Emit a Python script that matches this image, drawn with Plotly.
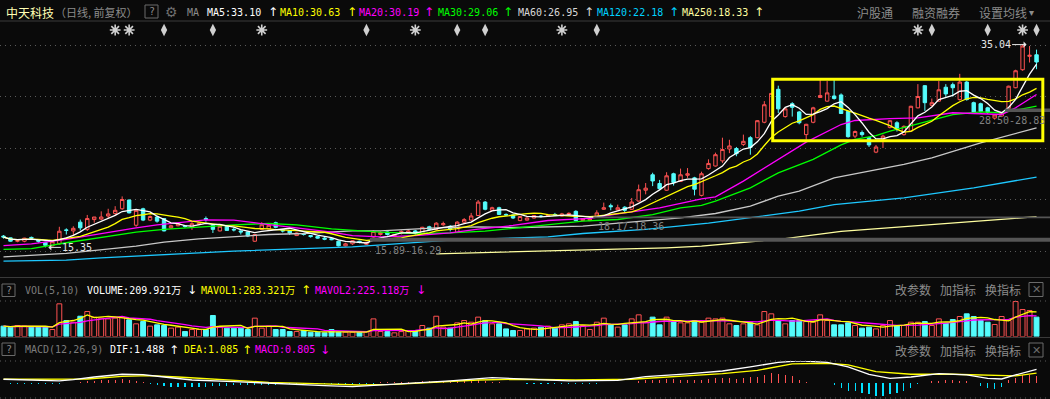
import plotly.graph_objects as go
import pandas as pd

# ---------------- data ----------------
opens = [16.45,16.28,15.95,15.95,16.32,16.05,15.85,15.5,15.7,17.05,
         16.95,17.8,17.1,18.05,18.1,18.4,18.65,19.1,19.95,17.5,
         19.1,18.0,18.3,18.15,17.25,17.45,17.45,17.3,17.6,18.15,
         17.5,16.95,17.4,17.1,16.95,16.85,15.95,17.1,17.15,17.75,
         17.05,16.95,16.5,16.7,16.5,16.4,16.25,16.2,15.95,15.5,
         15.7,15.95,15.65,16.35,16.6,16.85,16.4,16.7,16.75,16.95,
         16.7,17.35,17.1,17.55,17.4,16.8,17.8,18.0,18.45,19.75,
         18.95,19.2,18.55,18.5,17.95,18.0,18.2,18.4,18.35,18.55,
         18.4,18.55,18.85,17.95,17.95,18.4,19.05,19.4,19.0,19.25,
         19.05,19.85,20.9,22.4,21.55,20.9,22.5,21.75,22.35,22.1,
         20.4,23.0,23.25,23.75,24.9,24.95,25.35,26.0,26.0,27.5,
         28.05,30.7,28.05,29.3,28.5,26.3,27.5,29.9,29.55,30.05,
         30.15,28.55,26.15,26.5,26.0,24.6,25.85,27.0,27.45,26.3,
         26.65,28.9,31.05,29.15,29.55,30.9,31.15,29.7,31.4,29.4,
         29.3,28.9,27.9,28.1,28.85,30.85,32.6,33.9,34.05]
highs = [16.55,16.3,16.05,16.28,16.4,16.1,15.9,16.0,17.35,17.2,
         17.4,18.05,18.5,18.3,18.85,19.1,19.35,20.3,20.0,19.05,
         19.2,18.45,18.4,18.2,17.55,17.7,17.5,17.8,17.8,18.35,
         17.55,17.45,17.45,17.3,17.0,16.9,16.65,17.8,17.7,17.85,
         17.1,17.0,16.8,16.75,16.55,16.45,16.35,16.3,16.0,15.8,
         16.05,16.0,15.89,17.0,16.9,16.9,16.65,17.0,17.05,17.05,
         17.35,17.45,17.8,17.85,17.5,17.9,18.2,18.7,19.95,19.85,
         19.3,19.3,18.65,18.55,18.4,18.3,18.5,18.5,18.6,18.7,
         18.7,18.75,18.95,18.2,18.17,18.95,19.7,19.6,19.5,19.35,
         20.15,21.45,21.6,22.6,21.9,22.65,22.6,23.0,23.05,22.2,
         22.7,23.9,24.55,26.0,25.8,25.1,26.3,26.15,27.7,29.55,
         30.35,31.05,28.9,29.45,28.6,27.35,29.0,31.65,31.5,31.65,
         30.3,28.6,26.7,26.7,26.1,25.3,26.3,27.7,27.6,27.2,
         29.1,31.2,31.1,29.8,31.5,31.2,31.35,32.2,31.5,29.5,
         29.4,29.0,28.3,28.5,31.05,32.6,35.04,34.9,34.55]
lows = [16.2,15.9,15.85,15.85,16.15,15.8,15.35,15.45,15.6,16.6,
        16.55,17.0,16.95,17.75,18.0,18.2,18.5,19.0,18.65,17.35,
        17.9,17.9,17.75,16.9,17.15,17.4,17.25,17.05,17.5,17.85,
        16.75,16.9,16.95,16.9,16.6,16.35,15.9,17.05,17.1,17.2,
        16.8,16.55,16.45,16.5,16.3,16.2,16.05,16.05,15.45,15.45,
        15.6,15.75,15.6,16.29,16.5,16.5,16.35,16.6,16.65,16.6,
        16.65,17.0,17.0,17.45,16.9,16.75,17.7,17.95,18.4,18.95,
        18.9,18.5,18.4,18.1,17.9,17.95,18.15,18.25,18.3,18.4,
        18.35,18.5,17.9,17.9,17.9,18.36,19.0,18.95,18.95,18.75,
        19.0,19.8,20.5,21.3,20.95,20.85,21.35,21.7,22.1,20.4,
        20.3,22.9,23.2,23.55,24.5,24.2,25.2,24.35,25.95,27.4,
        28.0,28.4,27.95,28.05,27.3,25.8,27.4,29.85,29.5,29.7,
        28.3,26.0,25.95,26.1,25.1,24.5,25.0,26.9,26.6,26.2,
        26.6,28.85,28.6,29.05,29.5,30.0,30.0,29.6,29.6,28.3,
        28.45,28.3,27.75,28.0,28.83,30.8,32.5,33.3,32.65]
closes = [16.35,15.95,16.0,16.25,16.25,15.95,15.55,15.9,16.92,17.0,
          17.2,17.25,18.15,18.3,18.3,18.6,18.95,20.0,18.7,18.95,
          18.0,18.35,17.9,16.95,17.45,17.65,17.38,17.65,17.7,18.05,
          17.1,17.4,17.0,17.05,16.85,16.45,16.6,17.55,17.5,17.3,
          16.95,16.75,16.75,16.6,16.4,16.25,16.15,16.1,15.5,15.7,
          16.0,15.85,15.85,16.9,16.8,16.6,16.6,16.9,16.95,16.7,
          17.3,17.1,17.7,17.65,17.1,17.8,18.05,18.4,19.75,19.05,
          19.2,18.55,18.5,18.2,18.35,18.2,18.45,18.35,18.45,18.5,
          18.6,18.65,17.95,18.15,18.12,18.7,19.2,19.3,19.2,18.95,
          19.75,20.95,21.1,21.8,21.05,22.3,21.65,22.4,22.5,21.0,
          22.5,23.5,24.35,24.85,25.2,24.45,25.65,25.05,27.65,29.2,
          30.3,28.8,28.8,28.95,27.45,27.3,28.9,30.1,30.35,29.8,
          28.35,26.1,26.6,26.3,25.3,25.1,26.15,27.65,26.8,27.1,
          29.05,30.0,29.4,29.4,30.65,30.25,30.85,31.4,29.7,28.5,
          28.55,28.45,28.2,28.45,31.0,32.5,34.9,34.0,33.35]
# volume in 万 (10k shares)
volumes = [113,102,120,113,109,109,109,76,356,174,
           156,221,272,211,200,192,200,211,182,138,
           163,113,127,120,91,102,54,76,76,76,
           229,102,91,91,91,76,200,91,113,76,
           76,54,54,65,47,47,40,76,47,47,
           47,47,54,192,54,54,40,54,65,65,
           120,91,221,102,91,149,174,156,211,174,
           138,138,83,65,65,83,91,102,113,91,
           127,138,163,120,76,156,200,127,102,127,
           192,236,156,211,127,211,163,149,149,174,
           156,200,192,200,138,120,138,149,127,272,
           247,174,138,174,174,163,156,236,174,127,
           127,149,120,91,102,83,120,174,120,120,
           156,156,163,120,192,145,185,218,247,218,
           174,156,131,218,174,381,294,283,211]
# MACD histogram (per candle)
macd_hist = [0.0,-0.05,-0.05,-0.05,-0.05,-0.05,-0.05,-0.05,-0.05,
             0.05,0.08,0.1,0.2,0.25,0.3,0.3,0.4,0.45,0.35,0.2,0.1,
             -0.05,-0.15,-0.3,-0.35,-0.35,-0.4,-0.4,-0.35,-0.35,-0.3,-0.3,-0.25,
             -0.2,-0.2,-0.2,-0.2,-0.2,-0.2,-0.2,
             -0.1,-0.1,-0.1,-0.1,-0.1,-0.1,-0.1,-0.1,-0.1,-0.1,-0.1,-0.1,-0.1,
             -0.05,
             0.1,0.12,0.12,0.15,0.15,0.18,0.2,0.2,0.22,0.2,0.2,0.22,0.25,0.25,0.3,0.2,0.18,0.12,0.08,0.05,
             0.0,
             -0.05,-0.05,-0.05,-0.05,-0.05,-0.05,-0.05,-0.05,-0.05,-0.05,-0.05,
             0.0,0.0,
             0.05,0.05,0.05,
             0.2,0.3,0.35,0.4,0.45,0.45,0.4,0.35,
             0.3,0.4,0.5,0.55,0.55,0.6,0.5,0.55,0.65,0.7,
             0.9,1.05,1.0,0.9,0.75,
             0.3,0.15,0.05,0.05,0.05,-0.2,
             -0.55,-0.8,-0.8,-1.0,-1.1,-1.3,-1.3,-1.1,-1.0,-0.8,-0.5,
             -0.1,0.05,
             0.2,0.25,0.3,0.3,0.25,0.2,
             0.05,
             -0.3,-0.5,-0.6,-0.4,
             0.3,0.6,0.9,0.9,0.8]

# moving-average lines (candle index, value)
ma20_i = [0,4,9,14,19,22,26,29,33,35,38,42,47,50,54,59,64,68,73,78,84,88,94,100,102,106,111,115,120,122,127,131,136,140,143,145,148]
ma20_v = [15.53,15.7,16.12,16.7,17.25,17.54,17.8,18.02,18.0,17.8,17.57,17.25,16.83,16.5,16.38,16.5,16.76,17.12,17.48,17.96,18.16,18.61,19.19,20.06,20.26,21.78,23.9,25.57,27.28,27.67,27.85,27.93,28.42,28.32,28.25,28.9,30.19]
ma30_i = [0,4,9,14,19,23,28,33,38,42,47,50,54,59,64,69,74,78,83,88,93,97,100,102,107,111,114,116,120,122,125,127,131,136,140,143,148]
ma30_v = [15.15,15.24,15.8,16.28,16.83,17.09,17.35,17.54,17.67,17.54,17.15,16.99,16.83,16.7,16.76,16.92,17.25,17.57,17.9,18.06,18.54,19.19,19.42,19.84,21.13,22.59,23.4,23.9,25.3,25.83,26.21,26.63,27.35,28.25,28.51,28.42,29.06]
ma60_i = [0,9,19,23,28,33,38,43,50,54,58,62,68,74,83,92,97,102,107,111,114,119,129,133,140,148]
ma60_v = [14.43,14.76,15.47,15.86,16.18,16.38,16.6,16.7,16.96,16.96,17.09,17.25,17.35,17.28,17.41,17.9,18.22,18.64,19.35,20.32,20.81,22.1,23.4,24.05,25.5,26.95]
ma120_i = [0,9,14,23,33,43,50,64,78,83,92,101,114,119,129,139,148]
ma120_v = [14.01,14.11,14.34,14.66,14.98,15.24,15.4,16.05,16.38,16.7,17.1,17.7,18.87,19.5,20.16,21.13,22.18]
ma250_i = [62,66,73,80,86,95,100,112,120,134,148]
ma250_v = [14.73,14.8,14.88,14.98,15.08,15.31,15.47,16.21,16.9,17.6,18.33]

# MACD lines digitised (candle index, value)
dif_i = [0,4,8,10,13,17,20,23,27,33,39,46,50,54,58,64,70,75,81,88,92,98,103,107,111,114,118,121,124,127,130,134,138,141,143,145,148]
dif_v = [0.43,0.32,0.25,0.39,0.67,0.96,0.92,0.67,0.35,0.18,-0.04,-0.25,-0.35,-0.18,0.0,0.25,0.6,0.43,0.25,0.32,0.71,1.0,1.31,1.74,2.23,2.38,2.23,1.74,0.96,0.53,0.67,1.03,0.89,0.53,0.46,0.89,1.49]
dea_i = [0,6,12,17,21,25,30,38,46,51,56,62,68,74,82,90,96,103,108,113,118,121,125,130,136,142,145,148]
dea_v = [0.43,0.43,0.46,0.74,0.82,0.67,0.43,0.11,-0.07,-0.18,-0.11,0.11,0.35,0.43,0.35,0.43,0.74,1.03,1.38,2.06,2.13,1.95,1.24,0.96,0.96,0.82,0.78,1.09]

# price gaps: (candle before the gap, gap low, gap high)
gap_start = [52, 84, 143]
gap_low = [15.89, 18.17, 28.50]
gap_high = [16.29, 18.36, 28.83]

# event markers above candles
star_days = [16, 18, 37, 59, 80, 131, 146]
flag_days = [23, 30, 52, 65, 69, 85, 133, 141, 148]

# header texts
stock_name = "中天科技"
period_text = "（日线, 前复权）"
ma_labels = ["MA5:33.10", "MA10:30.63", "MA20:30.19", "MA30:29.06",
             "MA60:26.95", "MA120:22.18", "MA250:18.33"]
ma_arrows = ["↑", "↑", "↑", "↑", "↑", "↑", "↑"]
vol_labels = ["VOLUME:209.921万", "MAVOL1:283.321万", "MAVOL2:225.118万"]
vol_arrows = ["↓", "↑", "↓"]
macd_labels = ["DIF:1.488", "DEA:1.085", "MACD:0.805"]
macd_arrows = ["↑", "↑", "↓"]
high_label_day, low_label_day = 146, 6

# ---------------- styling / geometry ----------------
W, H = 1050, 399
BG = '#0a0a0a'
RED = '#ff5252'
CYAN = '#54fcfc'
WHITE = '#ffffff'
YEL = '#ffff00'
MAG = '#ff00ff'
GRN = '#00ff00'
MA60C = '#c8c8c8'
MA120C = '#1ec8ff'
MA250C = '#ffffa0'
GRAY = '#8c8c8c'
EVC = '#d0d0d0'
MONO = "DejaVu Sans Mono, Noto Sans CJK SC"
CJK = "Noto Sans CJK SC"
SYM = "DejaVu Sans"

X0_PX, STEP_PX = 3.5, 6.98
XR = [(0 - X0_PX) / STEP_PX, (W - X0_PX) / STEP_PX]
PY_A, PY_B = 405.5, 10.3          # y_px = A - B * price


def price_at(ypx):
    return (PY_A - ypx) / PY_B


def pv(ypx):
    return 1 - ypx / H


n = len(closes)
idx = list(range(n))
cs = pd.Series(closes)
ma5 = cs.rolling(5, min_periods=1).mean()
ma10 = cs.rolling(10, min_periods=1).mean()
vs = pd.Series(volumes)
mavol1 = vs.rolling(5, min_periods=1).mean()
mavol2 = vs.rolling(10, min_periods=1).mean()

fig = go.Figure()

# candles
fig.add_trace(go.Candlestick(
    x=idx, open=opens, high=highs, low=lows, close=closes,
    increasing=dict(line=dict(color=RED, width=1), fillcolor='rgba(0,0,0,0)'),
    decreasing=dict(line=dict(color=CYAN, width=1), fillcolor=CYAN),
    whiskerwidth=0, hoverinfo='skip', showlegend=False, xaxis='x', yaxis='y'))

# MA lines
for xs, ys, col in [(ma250_i, ma250_v, MA250C), (ma120_i, ma120_v, MA120C),
                    (ma60_i, ma60_v, MA60C), (ma30_i, ma30_v, GRN),
                    (ma20_i, ma20_v, MAG), (idx, list(ma10), YEL),
                    (idx, list(ma5), WHITE)]:
    fig.add_trace(go.Scatter(x=xs, y=ys, mode='lines', line=dict(color=col, width=1.3),
                             hoverinfo='skip', showlegend=False, xaxis='x', yaxis='y'))

# event markers
ev_y = price_at(30)
fig.add_trace(go.Scatter(x=star_days, y=[ev_y] * len(star_days), mode='markers',
                         marker=dict(symbol='asterisk-open', size=9, color=EVC,
                                     line=dict(width=1.6, color=EVC)),
                         hoverinfo='skip', showlegend=False, xaxis='x', yaxis='y'))
fig.add_trace(go.Scatter(x=star_days, y=[ev_y] * len(star_days), mode='markers',
                         marker=dict(symbol='circle', size=4, color=EVC,
                                     line=dict(width=0, color=EVC)),
                         hoverinfo='skip', showlegend=False, xaxis='x', yaxis='y'))
fig.add_trace(go.Scatter(x=flag_days, y=[ev_y] * len(flag_days), mode='markers',
                         marker=dict(symbol='diamond-tall', size=9, color=EVC,
                                     line=dict(width=0, color=EVC)),
                         hoverinfo='skip', showlegend=False, xaxis='x', yaxis='y'))

# volume
up = [c >= o for o, c in zip(opens, closes)]
fig.add_trace(go.Bar(
    x=idx, y=volumes, width=0.7,
    marker=dict(color=['rgba(0,0,0,0)' if u else CYAN for u in up],
                line=dict(color=[RED if u else CYAN for u in up], width=1)),
    hoverinfo='skip', showlegend=False, xaxis='x2', yaxis='y2'))
fig.add_trace(go.Scatter(x=idx, y=list(mavol2), mode='lines', line=dict(color=MAG, width=1.3),
                         hoverinfo='skip', showlegend=False, xaxis='x2', yaxis='y2'))
fig.add_trace(go.Scatter(x=idx, y=list(mavol1), mode='lines', line=dict(color=YEL, width=1.3),
                         hoverinfo='skip', showlegend=False, xaxis='x2', yaxis='y2'))

# MACD
fig.add_trace(go.Bar(
    x=idx, y=macd_hist, width=0.16,
    marker=dict(color=[RED if v > 0 else '#00e0ff' for v in macd_hist], line=dict(width=0)),
    hoverinfo='skip', showlegend=False, xaxis='x3', yaxis='y3'))
fig.add_trace(go.Scatter(x=dea_i, y=dea_v, mode='lines', line=dict(color=YEL, width=1.3),
                         hoverinfo='skip', showlegend=False, xaxis='x3', yaxis='y3'))
fig.add_trace(go.Scatter(x=dif_i, y=dif_v, mode='lines', line=dict(color=WHITE, width=1.3),
                         hoverinfo='skip', showlegend=False, xaxis='x3', yaxis='y3'))

shapes = []
ann = []


def hline(ypx, color, dash='solid'):
    shapes.append(dict(type='line', xref='paper', yref='paper', x0=0, x1=1,
                       y0=pv(ypx), y1=pv(ypx), line=dict(color=color, width=1, dash=dash)))


def txt(xpx, ypx, s, color, size=10, family=MONO, anchor='left'):
    ann.append(dict(x=xpx / W, y=pv(ypx), xref='paper', yref='paper', text=s,
                    showarrow=False, xanchor=anchor, yanchor='middle',
                    font=dict(family=family, size=size, color=color)))


def box(x0, x1, y0, y1, color='#6a6a6a'):
    shapes.append(dict(type='rect', xref='paper', yref='paper', x0=x0 / W, x1=x1 / W,
                       y0=pv(y1), y1=pv(y0), line=dict(color=color, width=1)))


# separators
hline(21, '#3a3a3a')
hline(277.5, '#3a3a3a')
hline(301, '#5a5a5a', '1px,4px')
hline(337.5, '#3a3a3a')
hline(361, '#5a5a5a', '1px,4px')
hline(398, '#5a5a5a', '1px,4px')

# gaps
for s, lo, hi in zip(gap_start, gap_low, gap_high):
    shapes.append(dict(type='rect', xref='x', yref='y', x0=s + 0.5, x1=XR[1],
                       y0=lo, y1=hi, fillcolor='#555555', line=dict(width=0), layer='above'))
    label = f"{lo:.2f}-{hi:.2f}"
    right_room = (XR[1] - (s + 0.5)) * STEP_PX
    if right_room > 70:
        ann.append(dict(x=s + 0.9, y=lo, xref='x', yref='y', text=label, showarrow=False,
                        xanchor='left', yanchor='top', yshift=-1,
                        font=dict(family=MONO, size=10, color='#808080')))
    else:
        ann.append(dict(x=0.997, y=lo, xref='paper', yref='y', text=label, showarrow=False,
                        xanchor='right', yanchor='top', yshift=-1,
                        font=dict(family=MONO, size=10, color='#808080')))

# consolidation box
shapes.append(dict(type='rect', xref='x', yref='y', x0=110.2, x1=148.9,
                   y0=price_at(140.7), y1=price_at(79.3),
                   line=dict(color='#ffff00', width=3), layer='above'))

# high / low labels
ann.append(dict(x=high_label_day, y=highs[high_label_day], xref='x', yref='y',
                text=f"{highs[high_label_day]:.2f}", showarrow=True, ax=-31, ay=0,
                xshift=4, arrowhead=1, arrowsize=1, arrowwidth=1, arrowcolor='#e6e6e6',
                standoff=0, font=dict(family=MONO, size=10, color='#e6e6e6')))
ann.append(dict(x=low_label_day, y=lows[low_label_day], xref='x', yref='y',
                text=f"{lows[low_label_day]:.2f}", showarrow=True, ax=29, ay=0,
                xshift=3, arrowhead=1, arrowsize=1, arrowwidth=1, arrowcolor='#e6e6e6',
                standoff=0, font=dict(family=MONO, size=10, color='#e6e6e6')))

# ---- header row ----
txt(4, 12, stock_name, '#ffffb4', 12, CJK)
txt(53, 12, period_text, GRAY, 11, CJK)
box(145, 158, 5, 18)
txt(151.5, 11.5, "?", GRAY, 10, MONO, 'center')
txt(171.5, 12, "⚙", '#6e6e6e', 14, SYM, 'center')
txt(185, 12, "MA", GRAY, 10)
ma_cols = [WHITE, YEL, MAG, GRN, '#d8d8d8', '#00d2ff', MA250C]
ma_x = [205, 278, 357, 436, 516, 595, 680]
ma_ax = [266, 345, 422, 501, 582, 667, 752]
for lab, ar, c, xl, xa in zip(ma_labels, ma_arrows, ma_cols, ma_x, ma_ax):
    txt(xl, 12, lab, c, 10)
    txt(xa, 12, ar, c, 12, SYM)
txt(855, 12, "沪股通", GRAY, 12, CJK)
txt(910, 12, "融资融券", GRAY, 12, CJK)
txt(977, 12, "设置均线", GRAY, 12, CJK)
txt(1031.5, 12.5, "▾", GRAY, 10, SYM, 'center')

# ---- volume header ----
box(2, 15, 284, 296.5)
txt(8.5, 290, "?", GRAY, 10, MONO, 'center')
txt(23, 290, "VOL(5,10)", '#7c7c7c', 10)
for lab, ar, c, xl, xa in zip(vol_labels, vol_arrows, [WHITE, YEL, MAG],
                              [85, 199, 313], [185, 299, 414]):
    txt(xl, 290, lab, c, 10)
    txt(xa, 290, ar, c, 12, SYM)

# ---- MACD header ----
box(2, 15, 343, 355.5)
txt(8.5, 349.5, "?", GRAY, 10, MONO, 'center')
txt(23, 349.5, "MACD(12,26,9)", '#7c7c7c', 10)
for lab, ar, c, xl, xa in zip(macd_labels, macd_arrows, [WHITE, YEL, MAG],
                              [108, 182, 253], [167, 240, 318]):
    txt(xl, 349.5, lab, c, 10)
    txt(xa, 349.5, ar, c, 12, SYM)

for yc in (289.5, 350):
    txt(893, yc, "改参数", GRAY, 12, CJK)
    txt(938, yc, "加指标", GRAY, 12, CJK)
    txt(983, yc, "换指标", GRAY, 12, CJK)
    box(1029, 1043, yc - 7, yc + 7)
    txt(1036, yc, "✕", '#6a6a6a', 11, SYM, 'center')

axis_off = dict(visible=False, range=XR, showgrid=False, zeroline=False, fixedrange=True)
fig.update_layout(
    width=W, height=H, autosize=False,
    margin=dict(l=0, r=0, t=0, b=0, pad=0),
    paper_bgcolor=BG, plot_bgcolor=BG,
    showlegend=False, bargap=0,
    xaxis=dict(**axis_off, anchor='y', domain=[0, 1], rangeslider=dict(visible=False)),
    xaxis2=dict(**axis_off, anchor='y2', domain=[0, 1]),
    xaxis3=dict(**axis_off, anchor='y3', domain=[0, 1]),
    yaxis=dict(domain=[pv(277), pv(22)], range=[price_at(277), price_at(22)],
               tickvals=[15, 20, 25, 30, 35], showticklabels=False, ticks='',
               showgrid=True, gridcolor='#5a5a5a', griddash='1px,4px', gridwidth=1,
               zeroline=False, showline=False, fixedrange=True),
    yaxis2=dict(domain=[pv(336.5), pv(301)], range=[0, 387], visible=False,
                showgrid=False, zeroline=False, fixedrange=True),
    yaxis3=dict(domain=[pv(398), pv(361)], range=[-1.56, 2.37], visible=False,
                showgrid=False, zeroline=False, fixedrange=True),
    shapes=shapes, annotations=ann,
)

fig.write_html("out.html", config={'displayModeBar': False, 'staticPlot': True},
               post_script="document.body.style.margin='0';")
